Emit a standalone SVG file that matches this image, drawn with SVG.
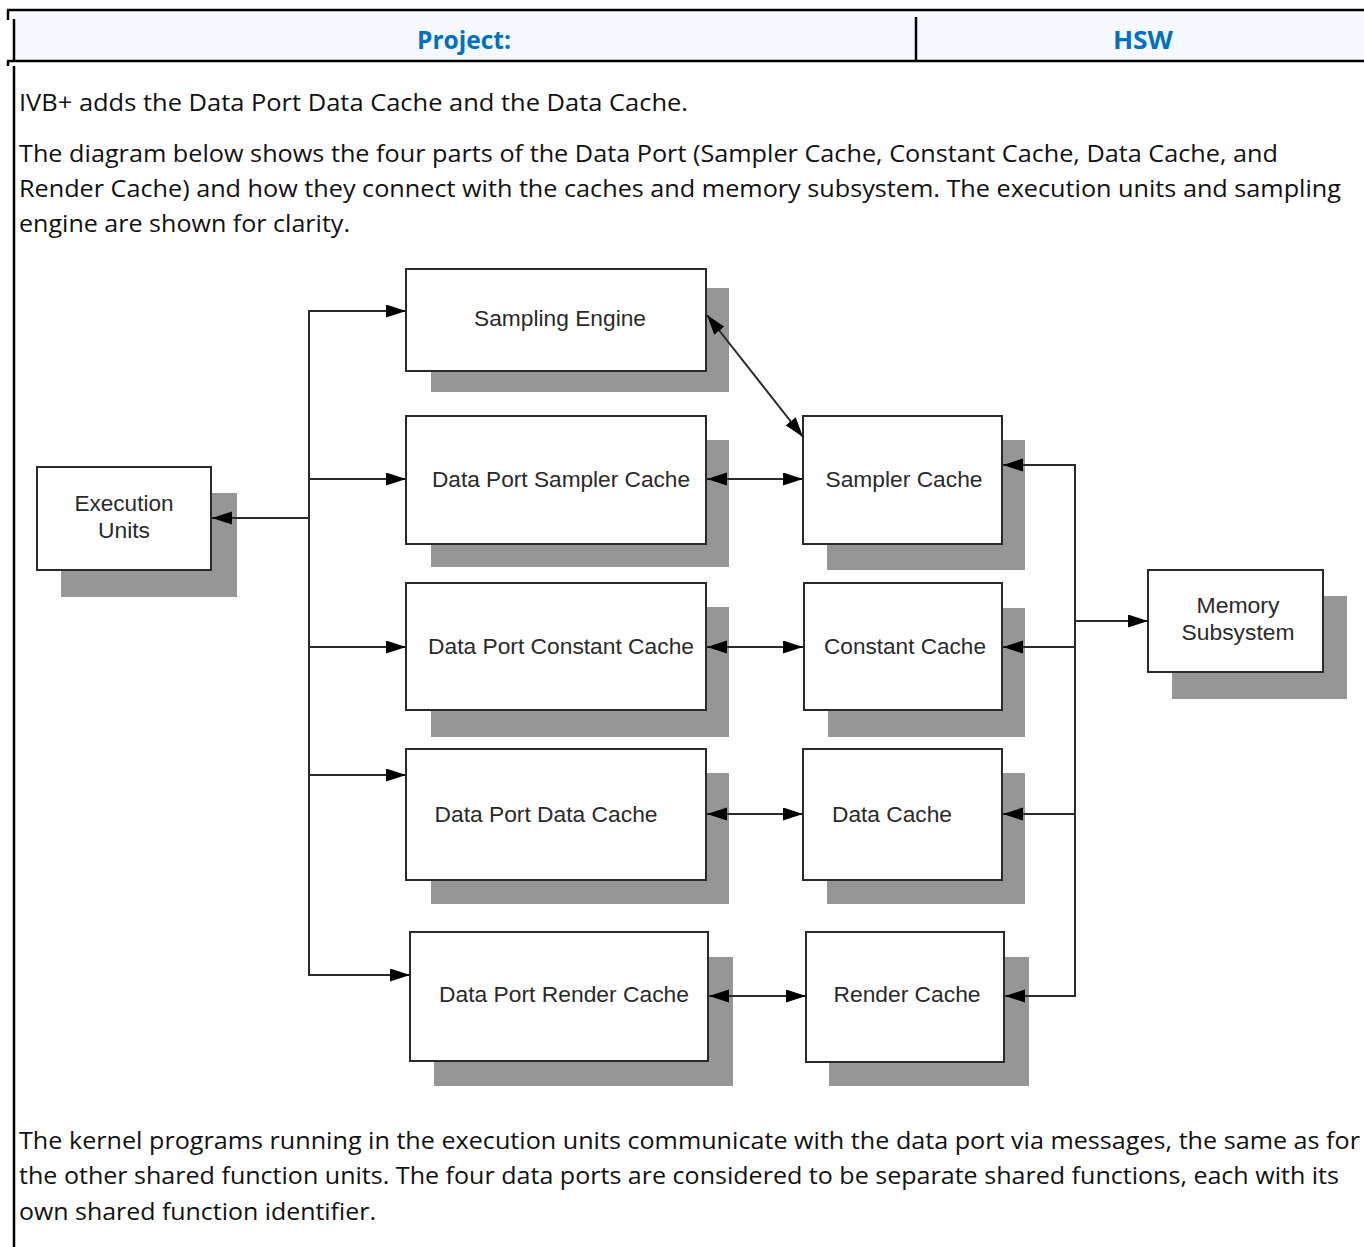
<svg xmlns="http://www.w3.org/2000/svg" width="1364" height="1247" viewBox="0 0 1364 1247">
<style>
.frame{stroke:#000;stroke-width:2.5;fill:none}
.hdr{font-family:"Open Sans","Noto Sans","Liberation Sans",sans-serif;font-weight:bold;font-size:25px;fill:#0070c0;text-anchor:middle}
.body{font-family:"Open Sans","Noto Sans","Liberation Sans",sans-serif;font-size:24px;fill:#111}
.box{fill:#fff;stroke:#2a2a2a;stroke-width:2}
.shadow{fill:#969696}
.lbl{font-family:"Liberation Sans",Arial,sans-serif;font-size:22px;fill:#2a2a2a;text-anchor:middle}
.conn line,.conn path{stroke:#2a2a2a;stroke-width:2;fill:none}
.arr{marker-end:url(#ah)}
.bi{marker-end:url(#ah);marker-start:url(#ah)}
</style>
<defs>
<marker id="ah" markerUnits="userSpaceOnUse" markerWidth="21" markerHeight="14" refX="20" refY="6.5" orient="auto-start-reverse">
<path d="M0,0 L20,6.5 L0,13 z" fill="#000"/>
</marker>
</defs>
<rect width="1364" height="1247" fill="#fff"/>
<g id="page-frame">
<rect x="15" y="11" width="1349" height="49" fill="#f5f9fe"/>
<line class="frame" x1="7" y1="10" x2="1364" y2="10"/>
<line class="frame" x1="8" y1="10" x2="8" y2="20"/>
<line class="frame" x1="14" y1="19" x2="14" y2="61"/>
<line class="frame" x1="7" y1="61" x2="1364" y2="61"/>
<line class="frame" x1="8" y1="61" x2="8" y2="66"/>
<line class="frame" x1="14" y1="66" x2="14" y2="1247"/>
<line class="frame" x1="916" y1="17" x2="916" y2="60"/>
<text class="hdr" x="464" y="49" textLength="94" lengthAdjust="spacingAndGlyphs">Project:</text>
<text class="hdr" x="1143" y="49" textLength="60" lengthAdjust="spacingAndGlyphs">HSW</text>
</g>
<g id="text-top">
<text class="body" x="19" y="111" textLength="669" lengthAdjust="spacingAndGlyphs">IVB+ adds the Data Port Data Cache and the Data Cache.</text>
<text class="body" x="19" y="162" textLength="1259" lengthAdjust="spacingAndGlyphs">The diagram below shows the four parts of the Data Port (Sampler Cache, Constant Cache, Data Cache, and</text>
<text class="body" x="19" y="197" textLength="1322" lengthAdjust="spacingAndGlyphs">Render Cache) and how they connect with the caches and memory subsystem. The execution units and sampling</text>
<text class="body" x="19" y="232" textLength="331" lengthAdjust="spacingAndGlyphs">engine are shown for clarity.</text>
</g>
<g id="text-bottom">
<text class="body" x="19" y="1149" textLength="1341" lengthAdjust="spacingAndGlyphs">The kernel programs running in the execution units communicate with the data port via messages, the same as for</text>
<text class="body" x="19" y="1184" textLength="1320" lengthAdjust="spacingAndGlyphs">the other shared function units. The four data ports are considered to be separate shared functions, each with its</text>
<text class="body" x="19" y="1220" textLength="357" lengthAdjust="spacingAndGlyphs">own shared function identifier.</text>
</g>
<g id="sampling-engine">
<rect class="shadow" x="431" y="288" width="298" height="104"/>
<rect class="box" x="406" y="269" width="300" height="102"/>
<text class="lbl" x="560" y="326" textLength="172" lengthAdjust="spacingAndGlyphs">Sampling Engine</text>
</g>
<g id="dp-sampler-cache">
<rect class="shadow" x="431" y="440" width="298" height="127"/>
<rect class="box" x="406" y="416" width="300" height="128"/>
<text class="lbl" x="561" y="487" textLength="258" lengthAdjust="spacingAndGlyphs">Data Port Sampler Cache</text>
</g>
<g id="sampler-cache">
<rect class="shadow" x="827" y="440" width="198" height="130"/>
<rect class="box" x="803" y="416" width="199" height="128"/>
<text class="lbl" x="904" y="487" textLength="157" lengthAdjust="spacingAndGlyphs">Sampler Cache</text>
</g>
<g id="execution-units">
<rect class="shadow" x="61" y="493" width="176" height="104"/>
<rect class="box" x="37" y="467" width="174" height="103"/>
<text class="lbl" x="124" y="511" textLength="99" lengthAdjust="spacingAndGlyphs">Execution</text>
<text class="lbl" x="124" y="538" textLength="52" lengthAdjust="spacingAndGlyphs">Units</text>
</g>
<g id="dp-constant-cache">
<rect class="shadow" x="431" y="607" width="298" height="130"/>
<rect class="box" x="406" y="583" width="300" height="127"/>
<text class="lbl" x="561" y="654" textLength="266" lengthAdjust="spacingAndGlyphs">Data Port Constant Cache</text>
</g>
<g id="constant-cache">
<rect class="shadow" x="828" y="608" width="197" height="129"/>
<rect class="box" x="804" y="583" width="198" height="127"/>
<text class="lbl" x="905" y="654" textLength="162" lengthAdjust="spacingAndGlyphs">Constant Cache</text>
</g>
<g id="memory-subsystem">
<rect class="shadow" x="1172" y="596" width="175" height="103"/>
<rect class="box" x="1148" y="570" width="175" height="102"/>
<text class="lbl" x="1238" y="613" textLength="83" lengthAdjust="spacingAndGlyphs">Memory</text>
<text class="lbl" x="1238" y="640" textLength="113" lengthAdjust="spacingAndGlyphs">Subsystem</text>
</g>
<g id="dp-data-cache">
<rect class="shadow" x="431" y="773" width="298" height="131"/>
<rect class="box" x="406" y="749" width="300" height="131"/>
<text class="lbl" x="546" y="822" textLength="223" lengthAdjust="spacingAndGlyphs">Data Port Data Cache</text>
</g>
<g id="data-cache">
<rect class="shadow" x="827" y="773" width="198" height="131"/>
<rect class="box" x="803" y="749" width="199" height="131"/>
<text class="lbl" x="892" y="822" textLength="120" lengthAdjust="spacingAndGlyphs">Data Cache</text>
</g>
<g id="dp-render-cache">
<rect class="shadow" x="434" y="957" width="299" height="129"/>
<rect class="box" x="410" y="932" width="298" height="129"/>
<text class="lbl" x="564" y="1002" textLength="250" lengthAdjust="spacingAndGlyphs">Data Port Render Cache</text>
</g>
<g id="render-cache">
<rect class="shadow" x="829" y="957" width="200" height="129"/>
<rect class="box" x="806" y="932" width="198" height="130"/>
<text class="lbl" x="907" y="1002" textLength="147" lengthAdjust="spacingAndGlyphs">Render Cache</text>
</g>
<g id="connectors" class="conn">
<line x1="309" y1="311" x2="309" y2="976"/>
<line class="arr" x1="309" y1="518" x2="212" y2="518"/>
<line class="arr" x1="308" y1="311" x2="406" y2="311"/>
<line class="arr" x1="308" y1="479" x2="406" y2="479"/>
<line class="arr" x1="308" y1="647" x2="406" y2="647"/>
<line class="arr" x1="308" y1="775" x2="406" y2="775"/>
<line class="arr" x1="308" y1="975" x2="410" y2="975"/>
<line class="bi" x1="707" y1="315" x2="803" y2="437"/>
<line class="bi" x1="707" y1="479" x2="803" y2="479"/>
<line class="bi" x1="707" y1="647" x2="803" y2="647"/>
<line class="bi" x1="707" y1="814" x2="803" y2="814"/>
<line class="bi" x1="709" y1="996" x2="806" y2="996"/>
<line x1="1075" y1="465" x2="1075" y2="997"/>
<line class="arr" x1="1076" y1="465" x2="1003" y2="465"/>
<line class="arr" x1="1075" y1="647" x2="1003" y2="647"/>
<line class="arr" x1="1075" y1="814" x2="1003" y2="814"/>
<line class="arr" x1="1076" y1="996" x2="1005" y2="996"/>
<line class="arr" x1="1075" y1="621" x2="1148" y2="621"/>
</g>
</svg>
